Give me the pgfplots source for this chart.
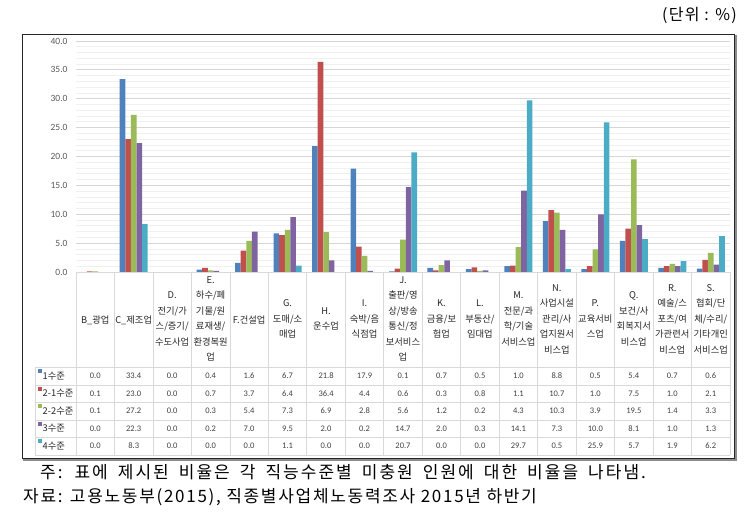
\documentclass[border=0pt]{standalone}
\usepackage{pgfplots}
\pgfplotsset{compat=1.18}
\usepackage{pgfplotstable}
\usepackage{fontspec}
\setmainfont{Carlito}
\newfontfamily\kr{Noto Sans CJK KR}
\newfontfamily\krw[LetterSpace=12]{Noto Sans CJK KR}
\newfontfamily\krv[LetterSpace=10]{Noto Sans CJK KR}
\newfontfamily\kru[LetterSpace=8]{Noto Sans CJK KR}
\definecolor{c1}{HTML}{4F81BD}
\definecolor{c2}{HTML}{C0504D}
\definecolor{c3}{HTML}{9BBB59}
\definecolor{c4}{HTML}{8064A2}
\definecolor{c5}{HTML}{4BACC6}
\definecolor{tgrid}{HTML}{D9D9D9}
\pgfplotstableread{
x l1 l21 l22 l3 l4
0 0.0 0.1 0.1 0.0 0.0
1 33.4 23.0 27.2 22.3 8.3
2 0.0 0.0 0.0 0.0 0.0
3 0.4 0.7 0.3 0.2 0.0
4 1.6 3.7 5.4 7.0 0.0
5 6.7 6.4 7.3 9.5 1.1
6 21.8 36.4 6.9 2.0 0.0
7 17.9 4.4 2.8 0.2 0.0
8 0.1 0.6 5.6 14.7 20.7
9 0.7 0.3 1.2 2.0 0.0
10 0.5 0.8 0.2 0.3 0.0
11 1.0 1.1 4.3 14.1 29.7
12 8.8 10.7 10.3 7.3 0.5
13 0.5 1.0 3.9 10.0 25.9
14 5.4 7.5 19.5 8.1 5.7
15 0.7 1.0 1.4 1.0 1.9
16 0.6 2.1 3.3 1.3 6.2
}\datatable
\begin{document}
\begin{tikzpicture}
\begin{axis}[
  at={(76pt,-272pt)}, anchor=south west,
  scale only axis, width=654pt, height=231pt,
  xmin=-0.5, xmax=16.5, ymin=0, ymax=40,
  ytick={0,5,...,40}, minor y tick num=4,
  ymajorgrids, yminorgrids,
  major grid style={draw=black!16, line width=0.8pt},
  minor grid style={draw=black!6, line width=0.8pt},
  axis line style={draw=none},
  major tick length=0pt, minor tick length=0pt,
  xtick=\empty,
  ybar=0pt, bar width=5.6pt,
  /pgf/number format/.cd, fixed, fixed zerofill, precision=1, assume math mode=true,
  /pgfplots/.cd,
  yticklabel style={font=\fontsize{9.5}{10}\selectfont, text=black!65, xshift=-5pt},
]
\addplot[fill=c1, draw=none] table[x=x,y=l1]{\datatable};
\addplot[fill=c2, draw=none] table[x=x,y=l21]{\datatable};
\addplot[fill=c3, draw=none] table[x=x,y=l22]{\datatable};
\addplot[fill=c4, draw=none] table[x=x,y=l3]{\datatable};
\addplot[fill=c5, draw=none] table[x=x,y=l4]{\datatable};
\end{axis}
% table grid
\draw[tgrid, line width=0.7pt] (76pt,-272pt) -- (730pt,-272pt);
\foreach \r in {367,385,402,420,437,455} {\draw[tgrid, line width=0.7pt] (35pt,-\r pt) -- (730pt,-\r pt);}
\foreach \k in {0,...,17} {\draw[tgrid, line width=0.7pt] ({76pt+\k*38.47pt},-272pt) -- ({76pt+\k*38.47pt},-455pt);}
\draw[tgrid, line width=0.7pt] (35pt,-367pt) -- (35pt,-455pt);
% header labels
\tikzset{hdr/.style={align=center, font=\kr\fontsize{9.3}{15.5}\selectfont, text=black!85}}
\node[hdr] at ({76pt+0.5*38.47pt},-320pt) {B\_광업};
\node[hdr] at ({76pt+1.5*38.47pt},-320pt) {C\_제조업};
\node[hdr] at ({76pt+2.5*38.47pt},-319pt) {D.\\전기/가\\스/증기/\\수도사업};
\node[hdr] at ({76pt+3.5*38.47pt},-319pt) {E.\\하수/폐\\기물/원\\료재생/\\환경복원\\업};
\node[hdr] at ({76pt+4.5*38.47pt},-320pt) {F.건설업};
\node[hdr] at ({76pt+5.5*38.47pt},-319pt) {G.\\도매/소\\매업};
\node[hdr] at ({76pt+6.5*38.47pt},-319pt) {H.\\운수업};
\node[hdr] at ({76pt+7.5*38.47pt},-319pt) {I.\\숙박/음\\식점업};
\node[hdr] at ({76pt+8.5*38.47pt},-319pt) {J.\\출판/영\\상/방송\\통신/정\\보서비스\\업};
\node[hdr] at ({76pt+9.5*38.47pt},-319pt) {K.\\금융/보\\험업};
\node[hdr] at ({76pt+10.5*38.47pt},-319pt) {L.\\부동산/\\임대업};
\node[hdr] at ({76pt+11.5*38.47pt},-319pt) {M.\\전문/과\\학/기술\\서비스업};
\node[hdr] at ({76pt+12.5*38.47pt},-319pt) {N.\\사업시설\\관리/사\\업지원서\\비스업};
\node[hdr] at ({76pt+13.5*38.47pt},-319pt) {P.\\교육서비\\스업};
\node[hdr] at ({76pt+14.5*38.47pt},-319pt) {Q.\\보건/사\\회복지서\\비스업};
\node[hdr] at ({76pt+15.5*38.47pt},-319pt) {R.\\예술/스\\포츠/여\\가관련서\\비스업};
\node[hdr] at ({76pt+16.5*38.47pt},-319pt) {S.\\협회/단\\체/수리/\\기타개인\\서비스업};
% row labels
\tikzset{rl/.style={anchor=west, inner sep=0pt, font=\kr\fontsize{9.3}{10}\selectfont, text=black!85}}
\foreach \c/\lab/\y in {c1/1수준/376, c2/2-1수준/393.5, c3/2-2수준/411, c4/3수준/428.5, c5/4수준/446} {
  \fill[\c] (37.5pt,{-\y pt+3pt}) rectangle (41.5pt,{-\y pt+7pt});
  \node[rl] at (42.5pt,-\y pt) {\lab};
}
% table numbers
\foreach \col/\y in {l1/376, l21/393.5, l22/411, l3/428.5, l4/446} {
  \foreach \i in {0,...,16} {
    \pgfplotstablegetelem{\i}{\col}\of\datatable
    \node[font=\fontsize{8.5}{10}\selectfont, text=black!75, inner sep=0pt] at ({76pt+(\i+0.5)*38.47pt},-\y pt)
      {\pgfmathprintnumber[fixed,fixed zerofill,precision=1,assume math mode=true]{\pgfplotsretval}};
  }
}
% outer frame
\draw[black!45, line width=1.2pt] (736pt,-35pt) -- (736pt,-460pt) -- (23pt,-460pt);
\draw[black!85, line width=0.8pt] (22.5pt,-34pt) rectangle (734.5pt,-458.5pt);
% unit
\node[anchor=east, inner sep=0pt, font=\kru\fontsize{16}{18}\selectfont] at (737pt,-15pt) {(단위 : \%)};
% notes
\node[anchor=west, inner sep=0pt, font=\krw\fontsize{17}{20}\selectfont] at (40pt,-472pt) {\spaceskip=10pt\relax 주: 표에 제시된 비율은 각 직능수준별 미충원 인원에 대한 비율을 나타냄.};
\node[anchor=west, inner sep=0pt, font=\krv\fontsize{17}{20}\selectfont] at (23pt,-497pt) {자료: 고용노동부(2015), 직종별사업체노동력조사 2015년 하반기};
\pgfresetboundingbox
\path[use as bounding box] (0,0) rectangle (755pt,-523pt);
\end{tikzpicture}
\end{document}
